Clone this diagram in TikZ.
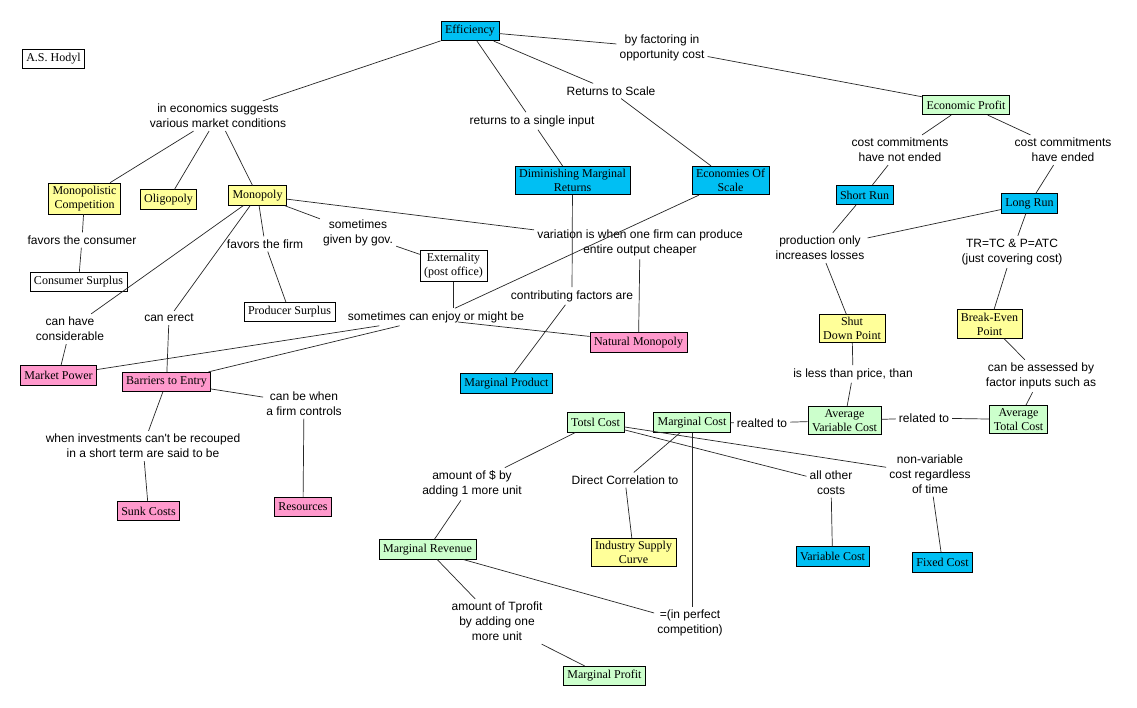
\documentclass[tikz,border=0pt]{standalone}
\usepackage{fontspec}
\setmainfont{Liberation Serif}
\newfontfamily\arialf{Liberation Sans}
\usetikzlibrary{calc}
\definecolor{cyanbox}{RGB}{0,191,243}
\definecolor{yelbox}{RGB}{255,255,153}
\definecolor{grnbox}{RGB}{204,255,204}
\definecolor{pnkbox}{RGB}{255,153,204}
\tikzset{
  concept/.style={draw=black, line width=0.7pt, font=\fontsize{12}{14}\selectfont,
    inner xsep=4pt, inner ysep=3pt, minimum height=19.5pt, align=center},
  cy/.style={concept, fill=cyanbox},
  ye/.style={concept, fill=yelbox},
  gr/.style={concept, fill=grnbox},
  pk/.style={concept, fill=pnkbox},
  wh/.style={concept, fill=white},
  lab/.style={font=\arialf\fontsize{12}{15}\selectfont, inner sep=3pt, align=center},
  link/.style={draw=black!85, line width=0.7pt},
}
\begin{document}
\begin{tikzpicture}[x=1pt,y=-1pt]
\useasboundingbox (0,0) rectangle (1137,708);
\fill[white] (0,0) rectangle (1137,708);

% nodes
\node[wh] (hodyl) at (53.5,59) {A.S. Hodyl};
\node[cy] (eff) at (470,31) {Efficiency};
\node[lab] (lfact) at (662,48) {by factoring in\\opportunity cost};
\node[gr] (ep) at (966,105) {Economic Profit};
\node[lab] (lecon) at (218,116) {in economics suggests\\various market conditions};
\node[ye] (mcomp) at (84.5,198.5) {Monopolistic\\Competition};
\node[ye] (olig) at (168.5,199.5) {Oligopoly};
\node[ye] (mono) at (257.5,195.5) {Monopoly};
\node[lab] (lsingle) at (532,121) {returns to a single input};
\node[lab] (lscale) at (611,91) {Returns to Scale};
\node[cy] (dmr) at (572.5,180.5) {Diminishing Marginal\\Returns};
\node[cy] (eos) at (730.5,180.5) {Economies Of\\Scale};
\node[lab] (lcons) at (82,240) {favors the consumer};
\node[wh] (cs) at (78.5,282) {Consumer Surplus};
\node[lab] (lfirm) at (265,244) {favors the firm};
\node[wh] (ps) at (289.5,312) {Producer Surplus};
\node[lab] (lhave) at (70,329) {can have\\considerable};
\node[pk] (mp) at (58.5,375.5) {Market Power};
\node[lab] (lerect) at (169,318) {can erect};
\node[pk] (bar) at (166.5,382) {Barriers to Entry};
\node[lab] (lgov) at (358,233) {sometimes\\given by gov.};
\node[wh] (ext) at (453.5,266) {Externality\\(post office)};
\node[lab] (lvar) at (640,243) {variation is when one firm can produce\\entire output cheaper};
\node[pk] (nm) at (638.5,342.5) {Natural Monopoly};
\node[lab] (lcontr) at (572,296) {contributing factors are};
\node[cy] (mprod) at (506.5,383.5) {Marginal Product};
\node[lab] (lenjoy) at (436,317) {sometimes can enjoy or might be};
\node[lab] (lctrl) at (304,403.5) {can be when\\a firm controls};
\node[pk] (res) at (303,507) {Resources};
\node[lab] (linv) at (143,446) {when investments can't be recouped\\in a short term are said to be};
\node[pk] (sunk) at (148.5,511) {Sunk Costs};

\node[lab] (lnot) at (900,150) {cost commitments\\have not ended};
\node[cy] (sr) at (864.5,195) {Short Run};
\node[lab] (lend) at (1063,150) {cost commitments\\have ended};
\node[cy] (lr) at (1029.5,203.5) {Long Run};
\node[lab] (lprod) at (820,248) {production only\\increases losses};
\node[ye] (sd) at (852,328.5) {Shut\\Down Point};
\node[lab] (ltr) at (1012,252) {TR=TC \& P=ATC\\(just covering cost)};
\node[ye] (be) at (989.5,324) {Break-Even\\Point};
\node[lab] (lless) at (853,374) {is less than price, than};
\node[gr] (avc) at (844.5,420.5) {Average\\Variable Cost};
\node[lab] (lassess) at (1041,376) {can be assessed by\\factor inputs such as};
\node[gr] (atc) at (1018.5,419.5) {Average\\Total Cost};
\node[lab] (lrel) at (924,418) {related to};
\node[gr] (mc) at (692,422.5) {Marginal Cost};
\node[lab] (lreal) at (762,423) {realted to};
\node[gr] (tc) at (595.5,422.5) {Totsl Cost};
\node[lab] (ldollar) at (472,484) {amount of \$ by\\adding 1 more unit};
\node[gr] (mr) at (427.5,549.5) {Marginal Revenue};
\node[lab] (ldirect) at (625,480) {Direct Correlation to};
\node[ye] (isc) at (633.5,552.5) {Industry Supply\\Curve};
\node[lab] (lperf) at (690,623) {=(in perfect\\competition)};
\node[lab] (ltprof) at (497,621.5) {amount of Tprofit\\by adding one\\more unit};
\node[gr] (mpro) at (604.5,676) {Marginal Profit};
\node[lab] (lother) at (831,482.5) {all other\\costs};
\node[cy] (vc) at (832.5,556.5) {Variable Cost};
\node[lab] (lnonv) at (930,474) {non-variable\\cost regardless\\of time};
\node[cy] (fc) at (942.5,562.5) {Fixed Cost};

% connectors
\draw[link] (eff) -- (lfact);
\draw[link] (lfact) -- (ep);
\draw[link] (eff) -- (lecon);
\draw[link] (lecon) -- (mcomp);
\draw[link] (lecon) -- (olig);
\draw[link] (lecon) -- (mono);
\draw[link] (eff) -- (lsingle);
\draw[link] (lsingle) -- (dmr);
\draw[link] (eff) -- (lscale);
\draw[link] (lscale) -- (eos);
\draw[link] (mcomp) -- (lcons);
\draw[link] (lcons) -- (cs);
\draw[link] (mono) -- (lfirm);
\draw[link] (lfirm) -- (ps);
\draw[link] (mono) -- (lhave);
\draw[link] (lhave) -- (mp);
\draw[link] (mono) -- (lerect);
\draw[link] (lerect) -- (bar);
\draw[link] (mono) -- (lgov);
\draw[link] (lgov) -- (ext);
\draw[link] (mono) -- (lvar);
\draw[link] (lvar) -- (nm);
\draw[link] (dmr) -- (lcontr);
\draw[link] (lcontr) -- (mprod);
\draw[link] (eos) -- (lenjoy);
\draw[link] (ext.south) -- (ext.south |- lenjoy.north);
\draw[link] (lenjoy) -- (mp);
\draw[link] (lenjoy) -- (bar);
\draw[link] ($(lenjoy.center)+(22,5)$) -- ($(nm.north west)!0.2!(nm.south west)$);
\draw[link] (bar) -- (lctrl);
\draw[link] (lctrl) -- (res);
\draw[link] (bar) -- (linv);
\draw[link] (linv) -- (sunk);

\draw[link] (ep) -- (lnot);
\draw[link] (lnot) -- (sr);
\draw[link] (ep) -- (lend);
\draw[link] (lend) -- (lr);
\draw[link] (sr) -- (lprod);
\draw[link] (lr) -- (lprod);
\draw[link] (lr) -- (ltr);
\draw[link] (ltr) -- (be);
\draw[link] (lprod) -- (sd);
\draw[link] (sd) -- (lless);
\draw[link] (lless) -- (avc);
\draw[link] (be) -- (lassess);
\draw[link] (lassess) -- (atc);
\draw[link] (avc) -- (lrel);
\draw[link] (lrel) -- (atc);
\draw[link] (mc) -- (lreal);
\draw[link] (lreal) -- (avc);
\draw[link] (tc) -- (ldollar);
\draw[link] (ldollar) -- (mr);
\draw[link] (mc) -- (ldirect);
\draw[link] (ldirect) -- (isc);
\draw[link] (mc.south) -- (mc.south |- lperf.north);
\draw[link] (mr) -- (lperf);
\draw[link] (mr) -- (ltprof);
\draw[link] (ltprof) -- (mpro);
\draw[link] (tc) -- (lother);
\draw[link] (lother) -- (vc);
\draw[link] (tc) -- (lnonv);
\draw[link] (lnonv) -- (fc);
\end{tikzpicture}
\end{document}
